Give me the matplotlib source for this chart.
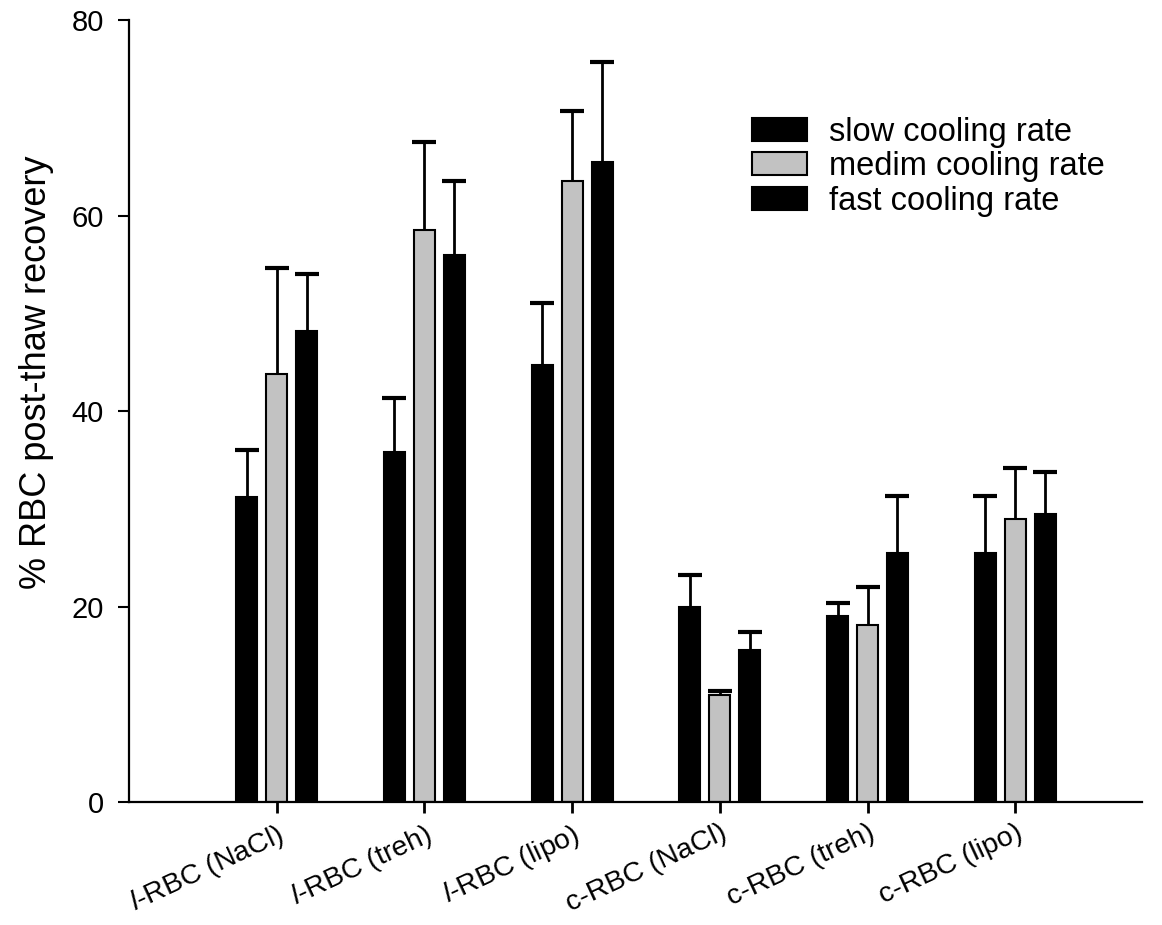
import numpy as np
import matplotlib.pyplot as plt
from matplotlib.transforms import ScaledTranslation

plt.rcParams['font.family'] = ['Liberation Sans', 'DejaVu Sans']
plt.rcParams['mathtext.fontset'] = 'custom'
plt.rcParams['mathtext.it'] = 'Liberation Sans:italic'
plt.rcParams['mathtext.rm'] = 'Liberation Sans'

# Data
groups = ["$\\mathit{l}$-RBC (NaCl)", "$\\mathit{l}$-RBC (treh)", "$\\mathit{l}$-RBC (lipo)",
          "c-RBC (NaCl)", "c-RBC (treh)", "c-RBC (lipo)"]
slow = [31.2, 35.8, 44.7, 20.0, 19.0, 25.5]
slow_err = [4.8, 5.5, 6.4, 3.2, 1.4, 5.8]
medium = [43.8, 58.5, 63.6, 11.0, 18.1, 29.0]
medium_err = [10.9, 9.0, 7.1, 0.4, 3.9, 5.2]
fast = [48.2, 56.0, 65.5, 15.6, 25.5, 29.5]
fast_err = [5.8, 7.6, 10.2, 1.8, 5.8, 4.3]

x = np.arange(len(groups))
w = 0.142
off = 0.203

fig = plt.figure(figsize=(11.62, 9.25), dpi=100)
ax = fig.add_axes([0.111, 0.133, 0.872, 0.845])

series = [
    (slow, slow_err, -off, "black", "slow cooling rate"),
    (medium, medium_err, 0, "#c2c2c2", "medim cooling rate"),
    (fast, fast_err, off, "black", "fast cooling rate"),
]
for vals, errs, dx, col, lab in series:
    ax.bar(x + dx, vals, w, color=col, edgecolor="black", linewidth=1.5, label=lab, zorder=2)
    tops = np.add(vals, errs)
    # upper error bars only
    ax.vlines(x + dx, vals, tops, colors="black", linewidth=2, zorder=3)
    ax.plot(x + dx, tops, ls="none", marker="_", ms=17, mew=3, color="black", zorder=3)

ax.set_xlim(-1.0, 5.86)
ax.set_ylim(0, 80)
ax.set_yticks([0, 20, 40, 60, 80])
ax.set_xticks(x)
ax.set_xticklabels(groups, rotation=25, ha="right", va="top", rotation_mode="anchor", fontsize=20.5)
for lbl in ax.get_xticklabels():
    lbl.set_transform(lbl.get_transform() + ScaledTranslation(0.07, 0, fig.dpi_scale_trans))
ax.tick_params(axis="y", labelsize=21, width=1.5, length=8, pad=10)
ax.tick_params(axis="x", width=2, length=8, pad=5)
ax.set_ylabel("% RBC post-thaw recovery", fontsize=26)
ax.yaxis.set_label_coords(-0.074, 0.55)

for s in ["top", "right"]:
    ax.spines[s].set_visible(False)
for s in ["left", "bottom"]:
    ax.spines[s].set_linewidth(1.6)

ax.legend(loc="upper left", bbox_to_anchor=(752 / 1162, 1 - 117 / 925),
          bbox_transform=fig.transFigure, frameon=False, borderpad=0, borderaxespad=0,
          fontsize=23.5, handlelength=1.7, handleheight=0.7, handletextpad=0.65,
          labelspacing=0.1)

fig.savefig("out.png")
